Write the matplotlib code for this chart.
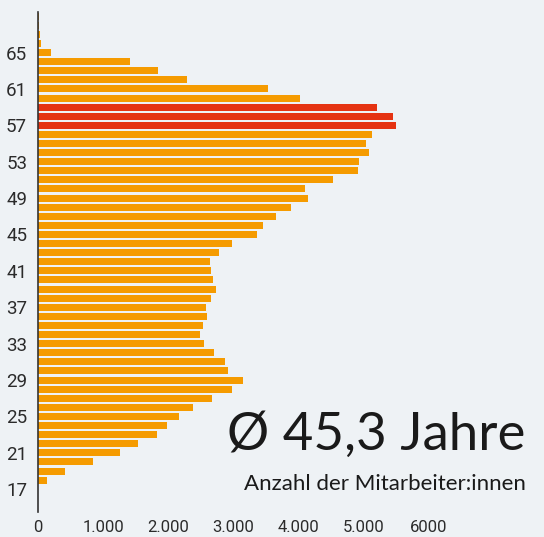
import matplotlib.pyplot as plt

# ages and number of employees per age
ages = list(range(17, 70))
counts = [
    0, 134, 410, 840, 1255, 1531, 1823, 1977, 2161, 2376,      # 17-26
    2668, 2975, 3145, 2914, 2868, 2699, 2546, 2484, 2530, 2592,  # 27-36
    2576, 2653, 2730, 2683, 2653, 2637, 2776, 2975, 3359, 3452,  # 37-46
    3651, 3882, 4143, 4097, 4527, 4911, 4926, 5080, 5034, 5126,  # 47-56
    5495, 5449, 5203, 4020, 3528, 2284, 1839, 1409, 195, 45,     # 57-66
    20, 15, 10,                                                  # 67-69
]
highlight = [57, 58, 59]
ytick_ages = list(range(17, 66, 4))
xtick_vals = [0, 1000, 2000, 3000, 4000, 5000, 6000]
xtick_labels = ['0', '1.000', '2.000', '3.000', '4.000', '5.000', '6000']

BG = '#eef2f5'
ORANGE = '#f59b00'
RED = '#e53312'
TEXT = '#2b2b2b'
TICKFONT = ['Roboto', 'DejaVu Sans']


def main():
    fig = plt.figure(figsize=(5.44, 5.37), dpi=100, facecolor=BG)
    ax = fig.add_axes([0.0704, 0.0466, 0.9296, 0.931])
    ax.set_facecolor(BG)

    colors = [RED if a in highlight else ORANGE for a in ages]
    ax.barh(ages, counts, height=0.77, color=colors, zorder=2)

    ax.set_xlim(0, 7768)
    ax.set_ylim(14.5, 69.45)

    for side in ['top', 'right', 'bottom']:
        ax.spines[side].set_visible(False)
    ax.spines['left'].set_color('#333333')
    ax.spines['left'].set_linewidth(1.2)
    ax.spines['left'].set_zorder(3)

    ax.set_yticks(ytick_ages)
    ax.set_yticklabels([str(a) for a in ytick_ages], family=TICKFONT,
                       fontsize=13.5, color=TEXT)
    ax.set_xticks(xtick_vals)
    ax.set_xticklabels(xtick_labels, family=TICKFONT, fontsize=12, color=TEXT)
    ax.tick_params(axis='y', length=0, pad=8)
    ax.tick_params(axis='x', length=0, pad=6)

    ax.text(525 / 544, (537 - 450) / 537, '\u00d8 45,3 Jahre',
            transform=fig.transFigure, ha='right', va='baseline',
            family='Lato', fontsize=38, color='#1a1a1a')
    ax.text(526 / 544, (537 - 490) / 537, 'Anzahl der Mitarbeiter:innen',
            transform=fig.transFigure, ha='right', va='baseline',
            family='Lato', fontsize=16, color='#1a1a1a')

    fig.savefig('out.png', dpi=100, facecolor=BG)


if __name__ == '__main__':
    main()
